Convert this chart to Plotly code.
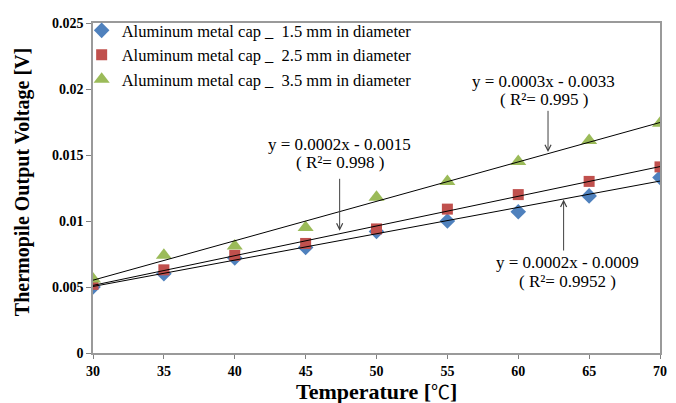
import numpy as np
import plotly.graph_objects as go

temps = [30, 35, 40, 45, 50, 55, 60, 65, 70]
v_15 = [0.0050, 0.0060, 0.0072, 0.0080, 0.0092, 0.0100, 0.0107, 0.0119, 0.0133]
v_25 = [0.0052, 0.0063, 0.0074, 0.0083, 0.0094, 0.0109, 0.0120, 0.0130, 0.0141]
v_35 = [0.0056, 0.0074, 0.0081, 0.0095, 0.0118, 0.0130, 0.0145, 0.0161, 0.0174]
names = ["Aluminum metal cap _\u00a0 1.5 mm in diameter",
         "Aluminum metal cap _\u00a0 2.5 mm in diameter",
         "Aluminum metal cap _\u00a0 3.5 mm in diameter"]
colors = ["#4F81BD", "#C0504D", "#9BBB59"]
symbols = ["diamond", "square", "triangle-up"]
sizes = [12, 11, 14]
eq_lines = ["y = 0.0003x - 0.0033", "y = 0.0002x - 0.0015", "y = 0.0002x - 0.0009"]
r2_lines = ["( R²= 0.995 )", "( R²= 0.998 )", "( R²= 0.9952 )"]
y_ticks = [0, 0.005, 0.01, 0.015, 0.02, 0.025]
y_ticklabels = ["0", "0.005", "0.01", "0.015", "0.02", "0.025"]
x_title = ("Temperature [<span style=\"font-family:'Noto Sans CJK JP';"
           "font-weight:normal;font-size:19px\">℃</span>]")
y_title = "Thermopile Output Voltage [V]"

SERIF = "Liberation Serif, Times New Roman, serif"

fig = go.Figure()
series = [v_15, v_25, v_35]
for vals, nm, c, s, sz in zip(series, names, colors, symbols, sizes):
    fig.add_trace(go.Scatter(x=temps, y=vals, mode="markers", name=nm,
                             marker=dict(color=c, symbol=s, size=sz, line=dict(width=0))))
# linear trendlines
for vals in series:
    k, b = np.polyfit(temps, vals, 1)
    xs = [temps[0], temps[-1]]
    fig.add_trace(go.Scatter(x=xs, y=[k * xx + b for xx in xs], mode="lines",
                             line=dict(color="black", width=1), showlegend=False,
                             hoverinfo="skip"))

# equation labels and arrows: (text_x, eq_y, r2_y, arrow_x, tail_y, head_y)
label_pos = [
    (61.8, 0.02059, 0.01919, 62.1, 0.01846, 0.01522),
    (47.4, 0.01581, 0.01441, 47.4, 0.01331, 0.00926),
    (63.5, 0.00684, 0.00544, 63.2, 0.00765, 0.01162),
]
for eq, r2, (tx, ey, ry, axx, tail, head) in zip(eq_lines, r2_lines, label_pos):
    for txt, yy in ((eq, ey), (r2, ry)):
        fig.add_annotation(x=tx, y=yy, text=txt, showarrow=False,
                           xanchor="center", yanchor="middle", borderpad=0,
                           font=dict(family=SERIF, size=17, color="black"))
    fig.add_annotation(x=axx, y=head, ax=axx, ay=tail, axref="x", ayref="y",
                       text="", showarrow=True, arrowhead=5, arrowsize=1.2,
                       arrowwidth=1, arrowcolor="#404040")

# axis titles
fig.add_annotation(x=-0.125, y=0.518, xref="paper", yref="paper", text=y_title,
                   textangle=-90, showarrow=False, xanchor="center", yanchor="middle",
                   font=dict(family=SERIF, size=20, weight="bold", color="black"))
fig.add_annotation(x=0.5, y=-0.115, xref="paper", yref="paper", text=x_title,
                   showarrow=False, xanchor="center", yanchor="middle", borderpad=0,
                   font=dict(family=SERIF, size=22, weight="bold", color="black"))

# page body has an 8px default margin, so the figure is sized to fit the window
fig.update_layout(
    width=668, height=395,
    margin=dict(l=85, r=16, t=5, b=50),
    paper_bgcolor="white", plot_bgcolor="white",
    font=dict(family=SERIF, color="black"),
    legend=dict(x=-0.02, y=1.03, xanchor="left", yanchor="top",
                bgcolor="rgba(0,0,0,0)", font=dict(family=SERIF, size=16.5),
                tracegroupgap=0, itemwidth=30),
    showlegend=True,
)
fig.update_xaxes(range=[30, 70], tickvals=temps, ticks="outside", ticklen=4,
                 tickcolor="#808080", showgrid=False, zeroline=False,
                 showline=True, linecolor="#9a9a9a", mirror=True, linewidth=1.5,
                 automargin=False,
                 tickfont=dict(family=SERIF, size=14, weight="bold"))
fig.update_yaxes(range=[0, 0.025], tickvals=y_ticks, ticktext=y_ticklabels,
                 ticks="outside", ticklen=5, tickcolor="#808080",
                 showgrid=False, zeroline=False, showline=True,
                 linecolor="#9a9a9a", mirror=True, linewidth=1.5,
                 automargin=False,
                 tickfont=dict(family=SERIF, size=14, weight="bold"))

fig.write_html("out.html")
